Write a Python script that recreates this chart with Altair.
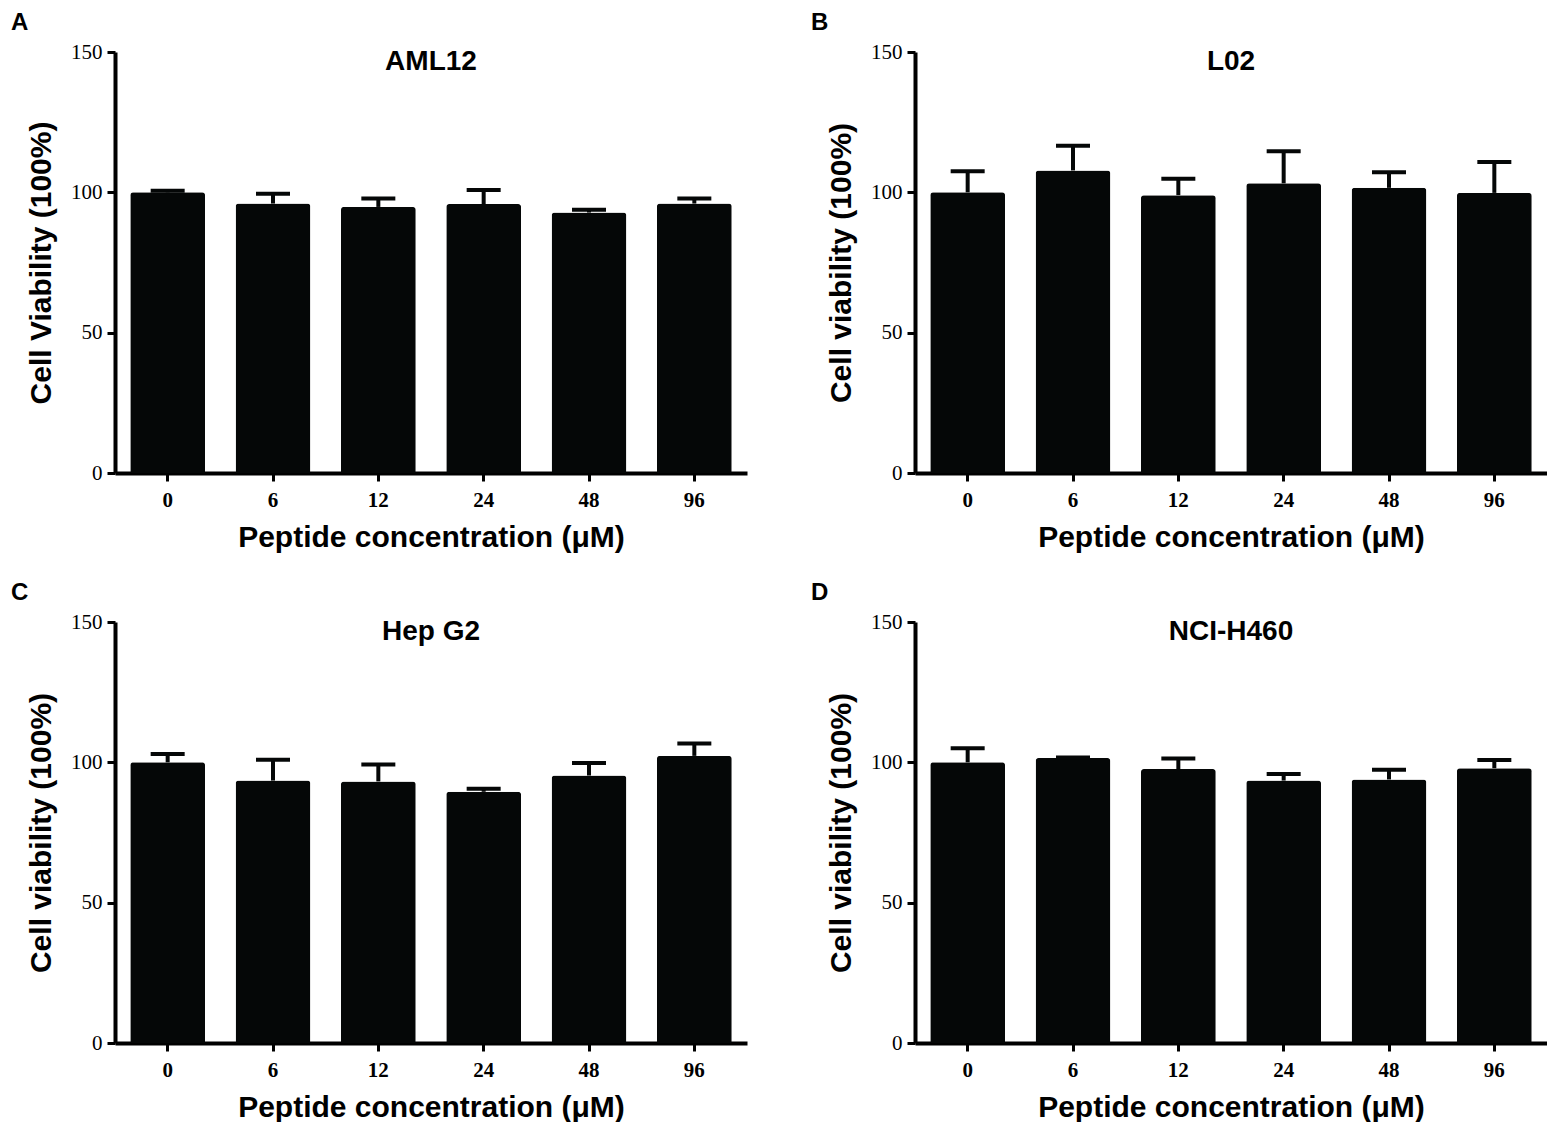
import altair as alt
import pandas as pd

# Peptide concentrations (µM)
concentrations = ["0", "6", "12", "24", "48", "96"]

# Cell viability means and upper error-bar ends
aml12_mean = [100.0, 96.0, 94.8, 95.8, 92.8, 96.0]
aml12_upper = [100.6, 99.5, 97.8, 100.8, 93.8, 97.8]

l02_mean = [100.0, 107.8, 99.0, 103.2, 101.6, 99.8]
l02_upper = [107.5, 116.6, 104.8, 114.6, 107.2, 110.8]

hepg2_mean = [100.0, 93.5, 93.2, 89.5, 95.3, 102.3]
hepg2_upper = [103.0, 100.9, 99.2, 90.6, 99.8, 106.7]

h460_mean = [100.0, 101.5, 97.6, 93.5, 93.9, 97.9]
h460_upper = [105.0, 101.7, 101.4, 95.8, 97.4, 100.8]

panel_letters = ["A", "B", "C", "D"]
panel_names = ["AML12", "L02", "Hep G2", "NCI-H460"]
y_titles = ["Cell Viability (100%)", "Cell viability (100%)",
            "Cell viability (100%)", "Cell viability (100%)"]
x_title = "Peptide concentration (μM)"
y_ticks = [0, 50, 100, 150]

means = [aml12_mean, l02_mean, hepg2_mean, h460_mean]
uppers = [aml12_upper, l02_upper, hepg2_upper, h460_upper]

BLACK = "#050707"
W, H = 632, 421


def panel(letter, name, ytitle, mean, upper):
    df = pd.DataFrame({"conc": concentrations, "mean": mean, "upper": upper})
    base = alt.Chart(df)
    xenc = alt.X("conc:N", sort=concentrations, title=x_title,
                 scale=alt.Scale(paddingInner=0.29, paddingOuter=0.145),
                 axis=alt.Axis(labelAngle=0))
    yscale = alt.Scale(domain=[0, 150], nice=False)
    yaxis = alt.Axis(values=y_ticks)
    bars = base.mark_bar(color=BLACK, cornerRadiusTopLeft=3,
                         cornerRadiusTopRight=3).encode(
        x=xenc,
        y=alt.Y("mean:Q", scale=yscale, axis=yaxis, title=ytitle),
    )
    stem = base.mark_rule(color=BLACK, strokeWidth=4).encode(
        x=xenc,
        y=alt.Y("mean:Q", scale=yscale, axis=yaxis, title=ytitle),
        y2="upper:Q",
    )
    cap = base.mark_tick(color=BLACK, thickness=4, size=34, opacity=1).encode(
        x=xenc,
        y=alt.Y("upper:Q", scale=yscale, axis=yaxis, title=ytitle),
    )
    lab = alt.Chart(pd.DataFrame({"t": [letter]})).mark_text(
        align="left", baseline="top", font="Liberation Sans",
        fontWeight="bold", fontSize=24, color="black",
    ).encode(text="t:N", x=alt.value(-104), y=alt.value(-41))
    ttl = alt.Chart(pd.DataFrame({"t": [name]})).mark_text(
        align="center", baseline="middle", font="Liberation Sans",
        fontWeight="bold", fontSize=28, color="black",
    ).encode(text="t:N", x=alt.value(W / 2), y=alt.value(10))
    return alt.layer(bars, stem, cap, lab, ttl).properties(width=W, height=H)


panels = [panel(panel_letters[i], panel_names[i], y_titles[i], means[i], uppers[i])
          for i in range(4)]

chart = alt.concat(
    *panels, columns=2, spacing={"row": 149, "column": 168}, bounds="flush"
).properties(
    padding={"left": 3, "top": 3, "right": 0, "bottom": 0}
).configure_view(strokeWidth=0).configure_axis(
    domainColor="black", domainWidth=4, tickColor="black", tickWidth=3,
    tickSize=8, labelColor="black", titleColor="black", grid=False,
    titleFont="Liberation Sans", titleFontWeight="bold", titleFontSize=30,
    labelFont="Liberation Serif", labelFontSize=21,
).configure_axisX(
    labelFontWeight="bold", labelPadding=8, titlePadding=12,
).configure_axisY(
    labelPadding=5, titlePadding=14,
)

chart.save("out.html", embed_options={"renderer": "svg", "actions": False})
